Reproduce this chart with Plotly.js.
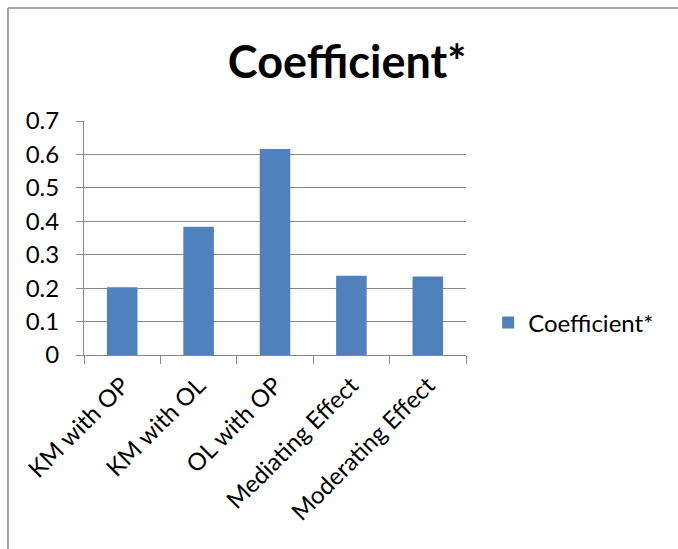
<!DOCTYPE html>
<html>
<head>
<meta charset="utf-8">
<script src="https://cdn.plot.ly/plotly-3.0.1.min.js"></script>
<style>html,body{margin:0;padding:0;background:#fff;}#chart{width:678px;height:549px;}</style>
</head>
<body>
<div id="chart"></div>
<script>
const categories = ["KM with OP", "KM with OL", "OL with OP", "Mediating Effect", "Moderating Effect"];
const coefficient = [0.203, 0.384, 0.616, 0.237, 0.235];
const yTicks = [0, 0.1, 0.2, 0.3, 0.4, 0.5, 0.6, 0.7];
const yTickLabels = ["0", "0.1", "0.2", "0.3", "0.4", "0.5", "0.6", "0.7"];
const seriesName = "Coefficient*";

const FONT = "Lato, 'Open Sans', 'Liberation Sans', sans-serif";
const GRAY = "#878787";

const data = [{
  type: "bar",
  x: categories,
  y: coefficient,
  name: seriesName,
  marker: {color: "#4f81bd"},
  showlegend: true,
  hoverinfo: "x+y"
}];

const layout = {
  width: 678,
  height: 549,
  margin: {l: 84, r: 212, t: 121, b: 194, pad: 0},
  paper_bgcolor: "#ffffff",
  plot_bgcolor: "#ffffff",
  font: {family: FONT, color: "#000000", size: 24},
  title: {
    text: "<b>Coefficient*</b>",
    font: {family: FONT, size: 45, color: "#000000"},
    x: 0.512, xanchor: "center",
    y: 0.887, yanchor: "middle",
    xref: "container", yref: "container"
  },
  bargap: 0.6,
  xaxis: {
    type: "category",
    tickangle: -45,
    showline: true, linecolor: GRAY, linewidth: 1,
    ticks: "outside", ticklen: 8, tickcolor: GRAY, tickwidth: 1,
    tickson: "boundaries",
    showgrid: false,
    tickfont: {family: FONT, size: 24, color: "#000"},
    ticklabelstandoff: 6,
    fixedrange: true
  },
  yaxis: {
    range: [0, 0.7],
    tickvals: yTicks,
    ticktext: yTickLabels,
    showline: true, linecolor: GRAY, linewidth: 1,
    ticks: "outside", ticklen: 7, tickcolor: GRAY, tickwidth: 1,
    showgrid: true, gridcolor: GRAY, gridwidth: 1,
    zeroline: false,
    tickfont: {family: FONT, size: 24, color: "#000"},
    ticklabelstandoff: 12,
    fixedrange: true
  },
  showlegend: true,
  legend: {
    x: 1.058, xanchor: "left",
    y: 0.137, yanchor: "middle",
    bgcolor: "rgba(0,0,0,0)",
    font: {family: FONT, size: 24, color: "#000"}
  },
  shapes: [
    {type: "line", xref: "paper", yref: "paper", x0: -0.199, x1: -0.199, y0: 1.483, y1: -0.83, line: {color: GRAY, width: 1.5}},
    {type: "line", xref: "paper", yref: "paper", x0: -0.199, x1: 1.56, y0: 1.483, y1: 1.483, line: {color: GRAY, width: 1.5}}
  ]
};

Plotly.newPlot("chart", data, layout, {displayModeBar: false, staticPlot: true});
</script>
</body>
</html>
